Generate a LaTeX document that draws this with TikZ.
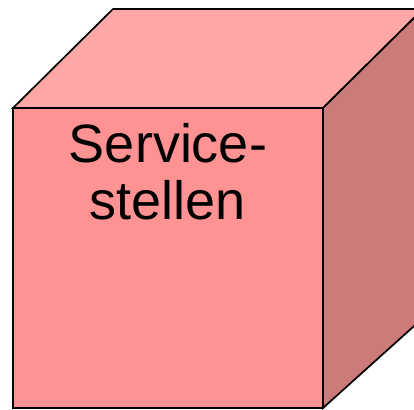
\documentclass[tikz,border=0pt]{standalone}
\usepackage{fontspec}
\setmainfont{Liberation Sans}
\usetikzlibrary{positioning}
\definecolor{topface}{HTML}{FFA6A6}
\definecolor{frontface}{HTML}{FF9393}
\definecolor{sideface}{HTML}{CC7A7A}
\tikzset{
  face/.style={draw=black, line width=1.7pt, line join=miter},
  cubetext/.style={align=center, inner sep=0pt, font=\fontsize{54}{57}\selectfont},
}

\begin{document}
\begin{tikzpicture}[x=1pt, y=-1pt]
    \clip (0,0) rectangle (414,409);
    % corners of the cube
    \coordinate (ftl) at (13,108);
    \coordinate (ftr) at (323,108);
    \coordinate (fbr) at (323,408);
    \coordinate (fbl) at (13,408);
    \coordinate (btl) at (113,9);
    \coordinate (btr) at (423,9);
    \coordinate (bbr) at (423,318);
    \fill[white] (0,0) rectangle (414,409);
    \filldraw[face, fill=topface] (ftl) -- (btl) -- (btr) -- (ftr) -- cycle;
    \filldraw[face, fill=sideface] (ftr) -- (btr) -- (bbr) -- (fbr) -- cycle;
    \filldraw[face, fill=frontface] (ftl) -- (ftr) -- (fbr) -- (fbl) -- cycle;
    \node[cubetext, anchor=north] (name) at (168,123) {Service-\\stellen};
\end{tikzpicture}
\end{document}
